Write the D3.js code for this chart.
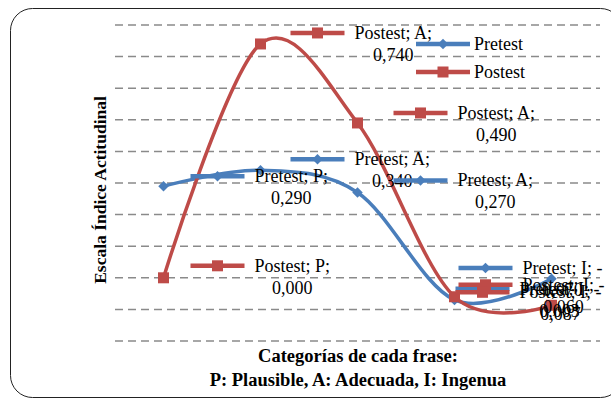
<!DOCTYPE html>
<html>
<head>
<meta charset="utf-8">
<script src="https://cdn.jsdelivr.net/npm/d3@7"></script>
<style>
body { margin: 0; background: #fff; }
svg text { font-family: "Times New Roman", "Liberation Serif", "DejaVu Serif", Times, serif; }
</style>
</head>
<body>
<script>
// chart data
var categories = ["P", "A", "A", "I", "I"];
var seriesNames = ["Pretest", "Postest"];
var pretest = [0.290, 0.340, 0.270, -0.070, -0.003];
var postest = [0.000, 0.740, 0.490, -0.060, -0.087];
var yTicks = [-0.2, -0.1, 0, 0.1, 0.2, 0.3, 0.4, 0.5, 0.6, 0.7, 0.8];
var yTitle = "Escala Índice Actitudinal";
var xTitle = ["Categorías de cada frase:", "P: Plausible, A: Adecuada, I: Ingenua"];

var width = 611, height = 401;
var colors = { Pretest: "#4A7EBB", Postest: "#BE4B48" };

// where each data label sits, relative to its point (key left end)
var labelPos = {
  Pretest: [[27, -10], [30, -11], [36, -12], [4, -32], [-96, 10]],
  Postest: [[27, -12], [30, -11], [36, -10], [4, -12], [-96, -13]]
};

var svg = d3.select("body").append("svg")
  .attr("width", width)
  .attr("height", height);

// rounded chart frame
svg.append("rect")
  .attr("x", 10.5).attr("y", 8.5)
  .attr("width", 612).attr("height", 389)
  .attr("rx", 22).attr("ry", 22)
  .attr("fill", "#fff")
  .attr("stroke", "#222").attr("stroke-width", 1);

var x = d3.scalePoint()
  .domain(d3.range(categories.length))
  .range([115, 600])
  .padding(0.5);

var y = d3.scaleLinear()
  .domain([-0.2, 0.8])
  .range([341, 25]);

// dashed gridlines
svg.selectAll(".grid")
  .data(yTicks)
  .enter()
  .append("line")
  .attr("class", "grid")
  .attr("x1", 115).attr("x2", 600)
  .attr("y1", function(d){ return y(d); })
  .attr("y2", function(d){ return y(d); })
  .attr("stroke", "#8a8a8a")
  .attr("stroke-width", 1.5)
  .attr("stroke-dasharray", "8,5");

// axis titles
svg.append("text")
  .attr("transform", "translate(106,190) rotate(-90)")
  .attr("text-anchor", "middle")
  .attr("font-size", 17.5)
  .attr("font-weight", "bold")
  .text(yTitle);

svg.selectAll(".xtitle")
  .data(xTitle)
  .enter()
  .append("text")
  .attr("class", "xtitle")
  .attr("x", 358)
  .attr("y", function(d, i){ return 362 + i * 24; })
  .attr("text-anchor", "middle")
  .attr("font-size", 18.5)
  .attr("font-weight", "bold")
  .text(function(d){ return d; });

var series = [
  { name: "Pretest", values: pretest },
  { name: "Postest", values: postest }
];

function marker(g, name, cx, cy) {
  if (name == "Pretest") {
    g.append("path")
      .attr("d", d3.symbol().type(d3.symbolDiamond2).size(70)())
      .attr("transform", "translate(" + cx + "," + cy + ")")
      .attr("fill", colors[name]);
  } else {
    g.append("rect")
      .attr("x", cx - 5.5).attr("y", cy - 5.5)
      .attr("width", 11).attr("height", 11)
      .attr("fill", colors[name]);
  }
}

function key(g, name, x0, y0) {
  g.append("line")
    .attr("x1", x0).attr("x2", x0 + 54)
    .attr("y1", y0).attr("y2", y0)
    .attr("stroke", colors[name])
    .attr("stroke-width", 4.5);
  marker(g, name, x0 + 27, y0);
}

// smoothed lines + markers
var line = d3.line()
  .x(function(d, i){ return x(i); })
  .y(function(d){ return y(d); })
  .curve(d3.curveCatmullRom.alpha(0));

series.forEach(function(s){
  svg.append("path")
    .datum(s.values)
    .attr("fill", "none")
    .attr("stroke", colors[s.name])
    .attr("stroke-width", 3.5)
    .attr("d", line);
  var g = svg.append("g");
  s.values.forEach(function(v, i){ marker(g, s.name, x(i), y(v)); });
});

// data labels with legend keys
var fmt = function(v){ return d3.format(".3f")(Math.abs(v)).replace(".", ","); };
series.forEach(function(s){
  s.values.forEach(function(v, i){
    var p = labelPos[s.name][i];
    var kx = x(i) + p[0], ky = y(v) + p[1];
    var g = svg.append("g");
    var first = s.name + "; " + categories[i] + ";" + (v < 0 ? " -" : "");
    var t = g.append("text")
      .attr("font-size", 18)
      .attr("fill", "#000");
    t.append("tspan").attr("x", kx + 64).attr("y", ky + 6).text(first);
    var w = t.node().getComputedTextLength();
    t.append("tspan")
      .attr("x", kx + 64 + w / 2).attr("y", ky + 28)
      .attr("text-anchor", "middle")
      .text(fmt(v));
    key(g, s.name, kx, ky);
  });
});

// legend
var legend = svg.append("g");
seriesNames.forEach(function(n, i){
  key(legend, n, 416, 44 + i * 28);
  legend.append("text")
    .attr("x", 474).attr("y", 50 + i * 28)
    .attr("font-size", 18)
    .text(n);
});
</script>
</body>
</html>
